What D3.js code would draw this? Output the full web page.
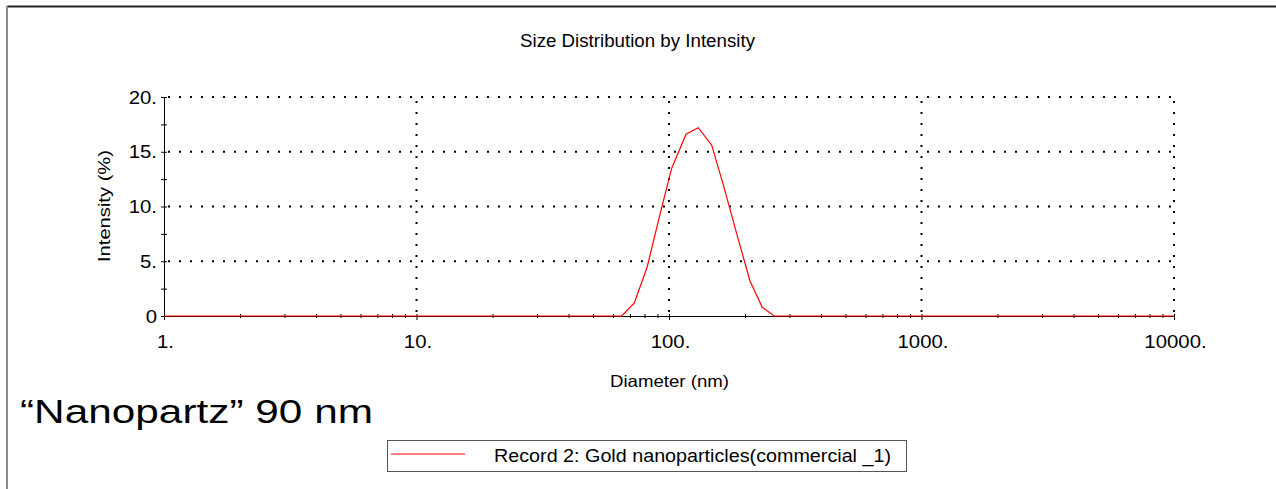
<!DOCTYPE html>
<html><head><meta charset="utf-8">
<script src="https://cdn.jsdelivr.net/npm/d3@7"></script>
<style>body{margin:0;background:#fff;}svg{display:block;font-family:"Liberation Sans",Arial,sans-serif;}</style>
</head><body>
<script>
const diameters = [1, 65.0, 72.9, 82.0, 91.5, 102.5, 116.8, 130.6, 147.6, 164, 185.5, 209.3, 234, 261, 10000];
const intensity = [0, 0, 1.2, 4.5, 9.0, 13.5, 16.6, 17.2, 15.6, 12.0, 7.5, 3.2, 0.8, 0, 0];
const xTicks = [1, 10, 100, 1000, 10000];
const xTickLabels = ["1.", "10.", "100.", "1000.", "10000."];
const yTicks = [0, 5, 10, 15, 20];
const yTickLabels = ["0", "5.", "10.", "15.", "20."];
const title = "Size Distribution by Intensity";
const xTitle = "Diameter (nm)";
const yTitle = "Intensity (%)";
const seriesName = "Record 2: Gold nanoparticles(commercial _1)";
const note = "\u201CNanopartz\u201D 90 nm";

const W = 1276, H = 489;
const svg = d3.select("body").append("svg").attr("width", W).attr("height", H);

// stretch text horizontally by a factor, or to a fixed width
function fit(sel, opt) {
  sel.each(function () {
    const n = this.getComputedTextLength();
    const target = opt.width != null ? opt.width : n * opt.scale;
    d3.select(this).attr("textLength", target).attr("lengthAdjust", "spacingAndGlyphs");
  });
  return sel;
}

// frame
svg.append("line").attr("x1", 7).attr("x2", W).attr("y1", 6.5).attr("y2", 6.5).attr("stroke", "#222").attr("stroke-width", 2);
svg.append("line").attr("x1", 7).attr("x2", 7).attr("y1", 6).attr("y2", H).attr("stroke", "#888").attr("stroke-width", 2);

const x = d3.scaleLog().domain([1, 10000]).range([164, 1174]);
const y = d3.scaleLinear().domain([0, 20]).range([316, 97]);

// grid
const grid = svg.append("g").attr("stroke", "#000").attr("stroke-width", 2).attr("stroke-dasharray", "2 9");
yTicks.filter(d => d > 0).forEach(d => {
  grid.append("line").attr("x1", x(1) + 4).attr("x2", x(10000)).attr("y1", y(d)).attr("y2", y(d));
});
xTicks.filter(d => d > 1).forEach(d => {
  grid.append("line").attr("x1", x(d)).attr("x2", x(d)).attr("y1", y(0) - 4).attr("y2", y(20));
});

// y axis
const yAxis = d3.axisLeft(y).tickValues(d3.range(0, 20.01, 2.5)).tickSize(0).tickFormat("");
const gy = svg.append("g").attr("transform", `translate(${x(1)},0)`).call(yAxis);
gy.select(".domain").attr("stroke", "#000").attr("stroke-width", 1);
gy.selectAll(".tick line").remove();
gy.selectAll(".tick").append("line").attr("x1", -3).attr("x2", 3).attr("stroke", "#000");
yTicks.forEach((d, i) => {
  const t = svg.append("text").attr("x", x(1) - 7).attr("y", y(d) + 6.5).attr("text-anchor", "end")
    .attr("font-size", 18.5).attr("fill", "#000").text(yTickLabels[i]);
  fit(t, { scale: 1.1 });
});

// x axis
const minor = [];
for (let e = 0; e < 4; e++) for (let k = 1; k < 10; k++) minor.push(k * Math.pow(10, e));
minor.push(10000);
const xAxis = d3.axisBottom(x).tickValues(minor).tickSize(0).tickFormat("");
const gx = svg.append("g").attr("transform", `translate(0,${y(0)})`).call(xAxis);
gx.select(".domain").attr("stroke", "#000").attr("stroke-width", 1);
gx.selectAll(".tick line").remove();
gx.selectAll(".tick").append("line").attr("y1", -2).attr("y2", d => xTicks.includes(d) ? 4 : 2).attr("stroke", "#000");
xTicks.forEach((d, i) => {
  const t = svg.append("text").attr("x", x(d) + 1.5).attr("y", 348).attr("text-anchor", "middle")
    .attr("font-size", 18.5).attr("fill", "#000").text(xTickLabels[i]);
  fit(t, { scale: 1.1 });
});

// series
const line = d3.line().x((d, i) => x(diameters[i])).y(d => y(d));
svg.append("path").datum(intensity).attr("d", line).attr("fill", "none").attr("stroke", "#ff0000").attr("stroke-width", 1.2);

// titles
fit(svg.append("text").attr("x", 520).attr("y", 47).attr("font-size", 17.5).attr("fill", "#000").text(title), { width: 235 });
fit(svg.append("text").attr("x", 610).attr("y", 387).attr("font-size", 16.5).attr("fill", "#000").text(xTitle), { width: 119 });
fit(svg.append("text").attr("transform", "translate(110,262) rotate(-90)").attr("font-size", 16.5).attr("fill", "#000").text(yTitle), { width: 112 });

// note
fit(svg.append("text").attr("x", 20).attr("y", 423).attr("font-size", 34).attr("fill", "#000").text(note), { width: 353 });

// legend
const lg = svg.append("g");
lg.append("rect").attr("x", 387.5).attr("y", 440.5).attr("width", 519).attr("height", 31).attr("fill", "#fff").attr("stroke", "#555").attr("stroke-width", 1);
lg.append("line").attr("x1", 391).attr("x2", 465).attr("y1", 454).attr("y2", 454).attr("stroke", "#ff0000").attr("stroke-width", 1);
fit(lg.append("text").attr("x", 494).attr("y", 462).attr("font-size", 17.5).attr("fill", "#000").text(seriesName), { width: 397 });
</script>
</body></html>
